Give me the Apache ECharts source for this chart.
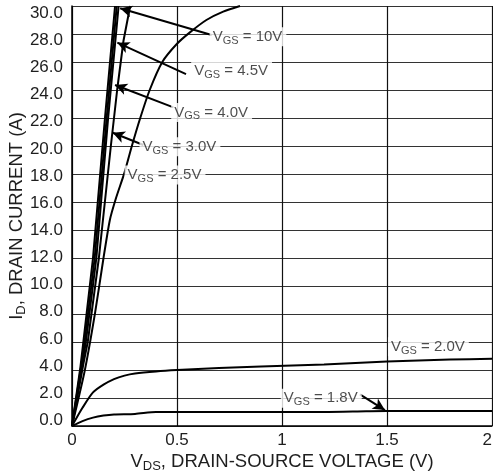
<!DOCTYPE html>
<html>
<head>
<meta charset="utf-8">
<script src="https://cdn.jsdelivr.net/npm/echarts@6/dist/echarts.min.js"></script>
<style>
  html, body { margin: 0; padding: 0; background: #fff; }
  #chart { width: 493px; height: 475px; }
</style>
</head>
<body>
<div id="chart"></div>
<script>
// Output characteristics: drain current vs drain-source voltage for several gate voltages
const xTicks = [0, 0.5, 1, 1.5, 2];
const yTicks = [0, 2, 4, 6, 8, 10, 12, 14, 16, 18, 20, 22, 24, 26, 28, 30];

// [V_DS (V), I_D (A)] pairs per gate voltage
const vgs10 = [[0, 0], [0.04, 4.2], [0.054, 6], [0.1, 12], [0.157, 22], [0.205, 30]];
const vgs45 = [[0, 0], [0.045, 4.4], [0.06, 6], [0.108, 12], [0.165, 22], [0.213, 30]];
const vgs40 = [[0, 0], [0.05, 4.5], [0.066, 6], [0.116, 12], [0.172, 22], [0.222, 30]];
const vgs30 = [[0, 0], [0.055, 4.5], [0.075, 6], [0.128, 12], [0.185, 20], [0.215, 24], [0.245, 27.5], [0.277, 30]];
const vgs25 = [[0, 0], [0.06, 3.9], [0.11, 8.1], [0.15, 12], [0.18, 14.7], [0.21, 16.3], [0.25, 18.1], [0.285, 20],
               [0.325, 22], [0.37, 24], [0.43, 26], [0.5, 27.3], [0.56, 28.1], [0.64, 29], [0.72, 29.6], [0.8, 30]];
const vgs20 = [[0, 0], [0.05, 1.3], [0.1, 2.4], [0.15, 2.95], [0.2, 3.35], [0.25, 3.6], [0.3, 3.75], [0.4, 3.9],
               [0.5, 4.0], [0.7, 4.15], [0.9, 4.25], [1.2, 4.4], [1.5, 4.6], [1.8, 4.75], [2.0, 4.8]];
const vgs18 = [[0, 0], [0.05, 0.35], [0.1, 0.6], [0.15, 0.75], [0.2, 0.83], [0.3, 0.86], [0.4, 1.0],
               [1.0, 1.0], [1.2, 1.0], [1.4, 1.05], [1.5, 1.07], [2.0, 1.07]];

// Curve label text and anchor (data coords)
const curveLabels = [
  { text: '10V',  at: [0.838, 27.8] },
  { text: '4.5V', at: [0.76, 25.38] },
  { text: '4.0V', at: [0.665, 22.4] },
  { text: '3.0V', at: [0.514, 19.95] },
  { text: '2.5V', at: [0.443, 17.93] },
  { text: '2.0V', at: [1.697, 5.66] },
  { text: '1.8V', at: [1.187, 1.98] }
];
// Leader arrows: [from, to] in data coords
const leaders = [
  [[0.665, 27.93], [0.229, 29.84]],
  [[0.543, 25.14], [0.216, 27.38]],
  [[0.483, 22.76], [0.205, 24.36]],
  [[0.34, 20.07], [0.194, 20.95]],
  [[1.371, 2.26], [1.49, 1.14]]
];

const FONT = 'Liberation Sans, Arial, Helvetica, sans-serif';
const INK = '#1e1e1e';
const NAME_SIZE = 18.5;

// The current-axis labels sit on a slightly tighter pitch than the grid:
// shift each one a little (down near the top, up near zero).
const yLabelRich = {};
yTicks.forEach(v => {
  const off = Math.round(-6 + 0.43 * v);
  yLabelRich['t' + v] = {
    fontSize: 17, fontFamily: FONT, color: INK,
    padding: off > 0 ? [2 * off, 0, 0, 0] : [0, 0, -2 * off, 0]
  };
});

const chart = echarts.init(document.getElementById('chart'), null, { renderer: 'canvas' });

function curve(name, data, smooth) {
  return {
    name: name, type: 'line', data: data, showSymbol: false, symbol: 'none',
    smooth: smooth, clip: true,
    lineStyle: { color: '#000', width: 2 }, z: 3
  };
}

chart.setOption({
  animation: false,
  backgroundColor: '#fff',
  grid: { left: 72, right: 1, top: 6, bottom: 49, containLabel: false, outerBoundsMode: 'none' },
  xAxis: {
    type: 'value', min: xTicks[0], max: xTicks[xTicks.length - 1], interval: 0.5,
    axisLine: { show: true, onZero: false, lineStyle: { color: '#000', width: 1.5 } },
    axisTick: { show: false },
    axisLabel: { color: INK, fontFamily: FONT, fontSize: 17, margin: 6,
      alignMaxLabel: 'right', formatter: v => String(v) },
    splitLine: { show: true, lineStyle: { color: '#111', width: 1.2 } },
    name: '{v|V}{s|DS}{v|, DRAIN-SOURCE VOLTAGE (V)}',
    nameLocation: 'middle', nameGap: 25, nameMoveOverlap: false,
    nameTextStyle: {
      color: INK, fontFamily: FONT,
      rich: {
        v: { fontSize: NAME_SIZE, fontFamily: FONT, color: INK },
        s: { fontSize: 13, fontFamily: FONT, color: INK, padding: [9, 0, 0, 0] }
      }
    }
  },
  yAxis: {
    type: 'value', min: yTicks[0], max: yTicks[yTicks.length - 1], interval: 2,
    axisLine: { show: true, lineStyle: { color: '#000', width: 1.5 } },
    axisTick: { show: false },
    axisLabel: { color: INK, fontFamily: FONT, fontSize: 17, margin: 9,
      formatter: v => '{t' + v + '|' + v.toFixed(1) + '}', rich: yLabelRich },
    splitLine: { show: true, lineStyle: { color: '#333', width: 1.2 } },
    name: '{v|I}{s|D}{v|, DRAIN CURRENT (A)}',
    nameLocation: 'middle', nameGap: 44, nameRotate: 90, nameMoveOverlap: false,
    nameTextStyle: {
      color: INK, fontFamily: FONT,
      rich: {
        v: { fontSize: NAME_SIZE, fontFamily: FONT, color: INK },
        s: { fontSize: 13, fontFamily: FONT, color: INK, padding: [9, 0, 0, 0] }
      }
    }
  },
  series: [
    curve('VGS = 1.8V', vgs18, 0.25),
    curve('VGS = 2.0V', vgs20, 0.25),
    curve('VGS = 2.5V', vgs25, 0.2),
    curve('VGS = 3.0V', vgs30, false),
    curve('VGS = 4.0V', vgs40, false),
    curve('VGS = 4.5V', vgs45, false),
    curve('VGS = 10V', vgs10, false),
    {
      name: 'labels', type: 'scatter', symbolSize: 0, z: 6, silent: true,
      data: curveLabels.map(c => ({ value: c.at, name: c.text })),
      label: {
        show: true, position: 'inside',
        formatter: p => '{v|V}{s|GS}{v| = ' + p.name + '}',
        backgroundColor: '#fff', padding: [0, 4, 0, 3],
        rich: {
          v: { fontSize: 15, fontFamily: FONT, color: INK },
          s: { fontSize: 11, fontFamily: FONT, color: INK, padding: [8, 0, 0, 0] }
        }
      },
      markLine: {
        silent: true, animation: false,
        symbol: ['none', 'arrow'], symbolSize: [9, 12],
        label: { show: false },
        lineStyle: { color: '#000', width: 2, type: 'solid' },
        data: leaders.map(l => [{ coord: l[0] }, { coord: l[1] }])
      }
    }
  ]
});
</script>
</body>
</html>
